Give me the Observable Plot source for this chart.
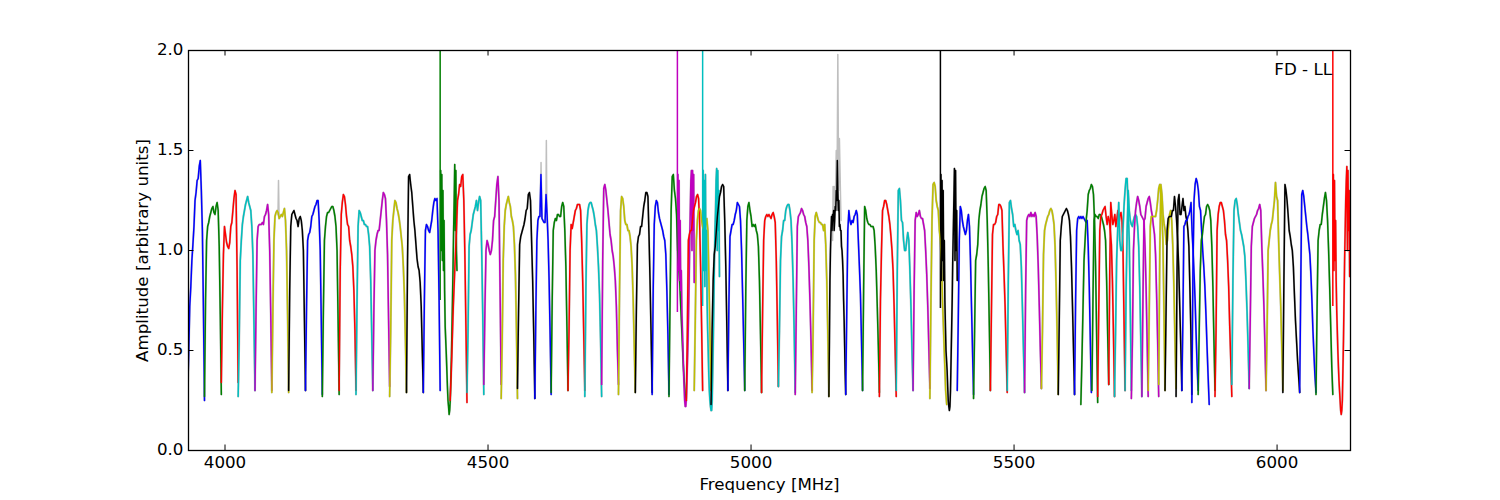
<!DOCTYPE html>
<html>
<head>
<meta charset="utf-8">
<script src="https://cdn.jsdelivr.net/npm/d3@7"></script>
<script src="https://cdn.jsdelivr.net/npm/@observablehq/plot@0.6"></script>
<style>html,body{margin:0;padding:0;background:#fff}svg{display:block}</style>
</head>
<body>
<div id="chart"></div>
<script>
const xTicks = [4000, 4500, 5000, 5500, 6000];
const yTicks = [0, 0.5, 1, 1.5, 2];
const xLabel = "Frequency [MHz]";
const yLabel = "Amplitude [arbitrary units]";
const note = "FD - LL";
const palette = {b:"#0000ff", g:"#007f00", r:"#ff0000", c:"#00bfbf", m:"#bf00bf", y:"#bfbf00", k:"#000000"};

const windowStart = [3929,3961,3993,4025,4057,4089,4121,4153,4185,4217,4249,4281,4313,4345,4377,4410,4428,4460,4492,4525,4556,4589,4620,4652,4684,4716,4748,4780,4812,4844,4861,4877,4892,4909,4924,4956,4988,5020,5052,5084,5116,5148,5180,5212,5244,5276,5308,5340,5361,5392,5423,5455,5487,5520,5552,5584,5615,5627,5648,5659,5680,5691,5711,5723,5743,5755,5775,5787,5808,5819,5838,5850,5882,5914,5947,5979,6011,6043,6074,6107];
const windowEnd = [3961,3993,4025,4057,4089,4121,4153,4185,4217,4249,4281,4313,4345,4377,4409,4441,4460,4492,4525,4556,4589,4620,4652,4684,4716,4748,4780,4812,4844,4877,4892,4908,4924,4940,4956,4988,5020,5052,5084,5116,5148,5180,5212,5244,5276,5308,5340,5372,5392,5423,5455,5487,5520,5552,5584,5615,5647,5659,5680,5691,5711,5723,5743,5755,5775,5787,5808,5819,5838,5850,5871,5882,5914,5947,5979,6011,6043,6074,6106,6138];
const windowColor = "b g r c m y k b g r c m y k b g r c m y k b g r c m y k b g m r y c k b g r c m y k b g r c m y k b g r c m y k b g g r r c c m m y y k k b b g r c m y k b g r".split(" ");

// Single-channel interference spikes that run off the top of the axes.
const spikeFreq = [4409, 4860, 4908, 5360, 6106];
const spikeLow = [0.75, 0.69, 0.72, 0.71, 0.72];
const spikeColor = ["g", "m", "c", "k", "r"];

const windowAmps = [
[.28,.48,.72,.82,.95,1.03,1.12,1.25,1.29,1.35,1.36,1.42,1.45,1.3,1.1,.7,.25],
[.27,.75,1.05,1.12,1.14,1.17,1.19,1.21,1.22,1.19,1.18,1.22,1.24,1.2,1.02,.68,.28],
[.34,.7,.98,1.12,1.08,1.04,1.02,1.01,1.04,1.12,1.14,1.2,1.26,1.3,1.28,.9,.34],
[.27,.55,.95,1.05,1.13,1.17,1.2,1.23,1.25,1.27,1.24,1.22,1.2,1.12,.98,.65,.3],
[.3,.7,1.05,1.12,1.13,1.13,1.13,1.14,1.13,1.17,1.18,1.2,1.23,1.18,1,.68,.3],
[.29,.7,1.05,1.17,1.19,1.2,1.19,1.16,1.17,1.18,1.17,1.19,1.21,1.15,1,.68,.29],
[.3,.8,1.12,1.18,1.19,1.2,1.18,1.16,1.15,1.12,1.16,1.17,1.15,1.1,1,.65,.3],
[.3,.72,1.05,1.08,1.09,1.12,1.17,1.18,1.2,1.22,1.23,1.25,1.25,1.15,1,.65,.28],
[.27,.7,1.05,1.12,1.17,1.19,1.19,1.2,1.21,1.22,1.22,1.2,1.17,1.12,1,.65,.28],
[.3,.9,1.18,1.24,1.28,1.27,1.23,1.17,1.13,1.12,1.05,1.02,.98,.92,.8,.6,.3],
[.28,.75,1.12,1.2,1.19,1.17,1.15,1.15,1.13,1.13,1.12,1.12,1.08,1.02,.85,.58,.3],
[.3,.7,1,1.05,1.08,1.1,1.1,1.15,1.2,1.25,1.29,1.28,1.26,1.15,.98,.65,.32],
[.27,.6,1.05,1.15,1.2,1.25,1.24,1.21,1.19,1.16,1.12,1.07,1.02,.92,.78,.55,.29],
[.29,.95,1.37,1.38,1.33,1.29,1.22,1.15,1.1,1.03,.96,.92,.9,.84,.72,.5,.29],
[.29,.75,1.1,1.13,1.12,1.1,1.09,1.12,1.15,1.2,1.24,1.26,1.25,1.26,1.1,.75,.3],
[1.4,1,1.38,.95,1.3,.9,1.15,.8,.62,.55,.48,.4,.32,.25,.22,.18,.2,.25,.35,.45,.6,.75,.92,1.1,1.25,1.43,1.1,1.4,1,.9],
[.25,.38,.55,.72,.85,.98,1.1,1.25,1.28,1.33,1.32,1.37,1.38,1.25,.98,.62,.24],
[.29,.6,1.02,1.08,1.1,1.14,1.18,1.2,1.22,1.25,1.2,1.24,1.27,1.25,1,.68,.28],
[.33,.7,1,1.05,1.03,1,.98,1,1.05,1.15,1.17,1.25,1.33,1.37,1.25,.8,.33],
[.26,.55,.95,1.12,1.2,1.23,1.25,1.27,1.24,1.22,1.17,1.15,1.12,1.03,.88,.6,.26],
[.31,.7,1.03,1.07,1.09,1.11,1.13,1.16,1.2,1.21,1.28,1.29,1.25,1.05,.85,.58,.26],
[.26,.7,1.05,1.15,1.17,1.17,1.38,1.16,1.15,1.14,1.14,1.28,1.18,1.05,.85,.58,.28],
[.29,.75,1.1,1.14,1.16,1.15,1.18,1.18,1.17,1.17,1.22,1.24,1.22,1.1,.92,.62,.3],
[.3,.6,1,1.13,1.11,1.14,1.17,1.2,1.21,1.23,1.23,1.23,1.2,1.05,.85,.58,.3],
[.27,.8,1.13,1.2,1.23,1.24,1.24,1.22,1.2,1.17,1.13,1.1,1.02,.92,.78,.55,.27],
[.33,.95,1.31,1.33,1.3,1.25,1.2,1.14,1.08,1.05,1,.97,.92,.85,.72,.5,.33],
[.28,.8,1.2,1.27,1.26,1.22,1.15,1.13,1.13,1.1,1.1,1.07,1.02,.92,.75,.52,.29],
[.29,.7,1.03,1.07,1.08,1.12,1.12,1.17,1.22,1.25,1.29,1.29,1.27,1.08,.85,.58,.29],
[.28,.8,1.13,1.22,1.25,1.24,1.19,1.16,1.14,1.12,1.1,1.07,1.05,.98,.8,.58,.28],
[.27,.75,1.2,1.37,1.38,1.3,1.26,1.18,1,.92,.83,.7,.58,.45,.35,.28,.25],
[1.38,.9,1.35,.85,1.15,.8,.9,.7,.6,.5,.4,.32,.25,.22,.22,.26,.35,.45,.55,.7,.85,1.05,1.2,1.35,1.4,1,1.4,1.1,1.38,.84],
[.25,.6,1.05,1.08,1.1,1.1,1.15,1.2,1.22,1.24,1.27,1.28,1.26,1.15,.92,.62,.3],
[.3,.65,1.05,1.15,1.2,1.21,1.2,1.15,1.12,1.1,1.1,1.13,1.16,1.1,.85,.58,.3],
[1.4,.9,1.35,.82,1.38,.9,1.1,.75,.6,.5,.38,.3,.25,.22,.2,.2,.25,.4,.55,.75,.95,1.1,1.2,1.35,1.41,1,1.4,1.1,1.3,.87],
[.23,.6,.85,.98,1.02,1.1,1.17,1.22,1.27,1.29,1.32,1.33,1.32,1.15,.92,.62,.3],
[.3,.75,1.07,1.1,1.13,1.13,1.15,1.18,1.2,1.24,1.23,1.22,1.15,1,.78,.55,.3],
[.3,.8,1.15,1.22,1.24,1.2,1.17,1.12,1.13,1.12,1.13,1.1,1.08,1.02,.85,.58,.29],
[.29,.7,1.05,1.15,1.17,1.18,1.17,1.18,1.17,1.16,1.18,1.19,1.17,1.14,.95,.65,.32],
[.32,.6,.95,1.07,1.1,1.15,1.15,1.2,1.22,1.23,1.23,1.2,1.15,1.03,.85,.6,.29],
[.28,.7,1.12,1.17,1.18,1.19,1.21,1.2,1.18,1.17,1.14,1.12,1.05,.92,.75,.55,.3],
[.29,.6,1.05,1.17,1.19,1.17,1.15,1.14,1.14,1.13,1.13,1.1,1.13,1.03,.85,.58,.27],
[.27,.55,.85,1,1.1,1.17,1.1,1.18,1.15,1.2,1.1,1.15,1.22,1.2,1.3,1.25,1.45,1.3,1.2,1.25,1.12,1.13,1.1,1.1,1.02,1,.95,.88,.75,.65,.52,.38,.28],
[.28,.7,1.1,1.2,1.15,1.13,1.15,1.14,1.17,1.18,1.2,1.18,1.05,.92,.78,.55,.3],
[.3,.8,1.22,1.2,1.16,1.14,1.13,1.13,1.12,1.12,1.12,1.1,1.02,.9,.72,.52,.29],
[.27,.75,1,1.2,1.22,1.25,1.25,1.23,1.2,1.17,1.13,1.07,1,.9,.72,.5,.27],
[.3,.9,1.3,1.31,1.25,1.15,1.14,1.05,1,1,1.05,1.09,1.05,.9,.72,.5,.3],
[.3,.8,1.15,1.19,1.17,1.18,1.2,1.17,1.16,1.16,1.13,1.1,1,.88,.72,.52,.31],
[.26,.75,1.15,1.33,1.34,1.32,1.25,1.22,1.2,1.1,1.05,.95,.75,.6,.45,.3,.23],
[1.38,.85,1.35,.95,1.3,.85,1.05,.75,.62,.5,.45,.4,.32,.25,.22,.2,.22,.3,.45,.6,.75,.95,1.1,1.25,1.41,.95,1.4,1,1.2,.85],
[.3,.65,1.05,1.22,1.2,1.15,1.12,1.1,1.08,1.1,1.15,1.18,1.12,.95,.72,.5,.28],
[.26,.6,.95,.98,1.03,1.15,1.2,1.23,1.27,1.29,1.31,1.32,1.3,1.15,.92,.62,.3],
[.3,.7,1.08,1.13,1.13,1.14,1.17,1.18,1.23,1.23,1.22,1.2,1.02,.88,.72,.5,.29],
[.3,.85,1.24,1.25,1.21,1.18,1.12,1.13,1.1,1.08,1.1,1.05,1.03,.92,.72,.5,.29],
[.29,.8,1.15,1.17,1.18,1.17,1.19,1.17,1.18,1.17,1.19,1.17,1.07,.92,.72,.5,.31],
[.31,.6,.98,1.1,1.13,1.15,1.17,1.18,1.2,1.21,1.2,1.17,1.13,1.02,.82,.58,.28],
[.28,.65,1.05,1.12,1.17,1.18,1.19,1.2,1.21,1.2,1.18,1.15,1.07,.92,.72,.5,.28],
[.28,.75,1.1,1.16,1.17,1.16,1.17,1.16,1.17,1.16,1.15,1.14,1.15,1.02,.82,.55,.29],
[.23,.45,.7,.95,1.05,1.15,1.2,1.28,1.3,1.31,1.33,1.32,1.28,1.15,.92,.58,.24],
[.3,.75,1.15,1.18,1.17,1.17,1.16,1.18,1.18,1.17,1.15,1.13,1.1,1.05,.85,.58,.33],
[.27,.7,1.1,1.17,1.18,1.2,1.21,1.22,1.17,1.13,1.17,1.15,1.1,1.03,.85,.58,.27],
[.33,.9,1.24,1.18,1.13,1.15,1.18,1.12,1.16,1.2,1.12,1.18,1.19,1.15,1,.65,.3],
[.27,.6,.95,1.1,1.24,1.05,1,1,1.1,1.22,1.3,1.36,1.36,1.2,1.05,.7,.3],
[.3,.8,1.1,1.3,1.2,1.15,1.13,1.12,1.15,1.17,1.18,1.17,1.12,1.02,.82,.55,.27],
[.26,.55,1,1.12,1.2,1.24,1.27,1.25,1.22,1.18,1.17,1.16,1.15,1.02,.82,.55,.27],
[.27,.75,1.15,1.16,1.22,1.24,1.26,1.27,1.24,1.2,1.17,1.12,1.08,.98,.78,.55,.27],
[.3,.7,1.12,1.17,1.17,1.17,1.17,1.17,1.2,1.25,1.31,1.33,1.28,1.18,1.05,.7,.3],
[.33,1,1.33,1.28,1.18,1.13,1.1,1.03,1.05,1.12,1.18,1.2,1.15,1.02,.82,.55,.31],
[.3,.7,1.1,1.16,1.17,1.17,1.17,1.2,1.2,1.27,1.22,1.15,1.05,.92,.72,.52,.3],
[.27,.9,1.25,1.28,1.18,1.18,1.22,1.26,1.2,1.22,1.17,1.15,1.1,1.02,.82,.6,.28],
[.3,.65,1.12,1.13,1.15,1.15,1.17,1.18,1.2,1.24,1.1,1,.88,.75,.58,.42,.3],
[.24,.9,1.25,1.33,1.36,1.34,1.3,1.22,1.2,1.1,1,.92,.82,.68,.52,.37,.23],
[.28,.6,.9,1.05,1.08,1.13,1.17,1.18,1.22,1.23,1.22,1.2,1.15,1.02,.82,.55,.3],
[.27,.6,1.1,1.18,1.22,1.24,1.24,1.22,1.2,1.15,1.08,1.05,.95,.82,.62,.45,.27],
[.33,.85,1.2,1.25,1.26,1.23,1.18,1.14,1.1,1.08,1.05,1.02,.97,.85,.7,.52,.31],
[.31,.65,1.02,1.12,1.14,1.16,1.17,1.18,1.2,1.21,1.23,1.2,1.02,.88,.72,.52,.3],
[.3,.6,1,1.05,1.1,1.13,1.15,1.2,1.25,1.34,1.27,1.25,1.05,.88,.72,.52,.3],
[.29,.85,1.33,1.3,1.25,1.18,1.1,1.07,1.03,1,.92,.78,.65,.55,.45,.37,.29],
[.29,.8,1.28,1.3,1.27,1.22,1.17,1.12,1.08,1.03,.98,.88,.75,.6,.48,.37,.29],
[.28,.7,1.05,1.1,1.13,1.13,1.18,1.22,1.26,1.29,1.25,1.15,1,.82,.62,.42,.28],
[1.38,.9,1.35,.95,1.15,.85,.7,.6,.5,.42,.35,.3,.25,.2,.18,.2,.25,.4,.55,.75,.95,1.1,1.25,1.35,1.42,1,1.4,1.1,1.3,.87]
];

// Light grey second trace: only its excursions above the coloured one are readable.
const greyFreq = [4100.7,4101.7,4102.7,null,4599.8,4600.8,4601.8,null,4609.9,4610.9,4611.9,null,5155,5156,5157,5158,5160,5162,5163.5,5165,5166.5,5168,5171];
const greyAmp  = [1.18,1.35,1.18,null,1.17,1.44,1.17,null,1.17,1.55,1.17,null,1.05,1.32,1.1,1.32,1.2,1.5,1.3,1.98,1.3,1.56,1.15];

const rows = windowAmps.flatMap((amps, w) => amps.map((a, j) => ({
  w, a, c: palette[windowColor[w]],
  f: windowStart[w] + (windowEnd[w] - windowStart[w]) * j / (amps.length - 1)
})));
const grey = greyFreq.map((f, i) => ({f, a: greyAmp[i]}));
const spikes = spikeFreq.map((f, i) => ({f, lo: spikeLow[i], c: palette[spikeColor[i]]}));

const xDom = [3930.6, 6139.6], yDom = [0, 2];
const xTickLen = 10.4, yTickLen = 0.0275;

const chart = Plot.plot({
  width: 1500, height: 500,
  marginLeft: 188, marginRight: 150, marginTop: 50, marginBottom: 50,
  style: {fontFamily: "DejaVu Sans", fontSize: "16.7px", color: "#000", background: "#fff"},
  x: {domain: xDom},
  y: {domain: yDom},
  color: {type: "identity"},
  marks: [
    Plot.line(rows, {x: "f", y: "a", z: "w", stroke: "#c4c4c4", strokeWidth: 2.1, clip: true, curve: "linear"}),
    Plot.line(grey, {x: "f", y: "a", stroke: "#bfbfbf", strokeWidth: 1.5, clip: true, curve: "linear"}),
    Plot.ruleX(spikes, {x: "f", y1: "lo", y2: yDom[1], stroke: "c", strokeWidth: 1.5}),
    Plot.line(rows, {x: "f", y: "a", z: "w", stroke: "c", strokeWidth: 1.5, clip: true, curve: "linear"}),
    Plot.ruleX(xTicks, {y1: yDom[0], y2: yDom[0] + yTickLen, stroke: "#000", strokeWidth: 1}),
    Plot.ruleX(xTicks, {y1: yDom[1], y2: yDom[1] - yTickLen, stroke: "#000", strokeWidth: 1}),
    Plot.ruleY(yTicks, {x1: xDom[0], x2: xDom[0] + xTickLen, stroke: "#000", strokeWidth: 1}),
    Plot.ruleY(yTicks, {x1: xDom[1], x2: xDom[1] - xTickLen, stroke: "#000", strokeWidth: 1}),
    Plot.axisX(xTicks, {anchor: "bottom", tickSize: 0, tickPadding: 6, tickFormat: d => String(d), label: xLabel, labelAnchor: "center", labelOffset: 39, labelArrow: "none", fontSize: 16.7}),
    Plot.axisY(yTicks, {anchor: "left", tickSize: 0, tickPadding: 5, dy: -1, tickFormat: d => d.toFixed(1), label: yLabel, labelAnchor: "center", labelOffset: 52, labelArrow: "none", fontSize: 16.7}),
    Plot.text([note], {x: 6104.5, y: 1.905, text: d => d, textAnchor: "end", fontSize: 16.7, fill: "#000"}),
    Plot.frame({stroke: "#000", strokeWidth: 1.3})
  ]
});
document.getElementById("chart").appendChild(chart);
</script>
</body>
</html>
